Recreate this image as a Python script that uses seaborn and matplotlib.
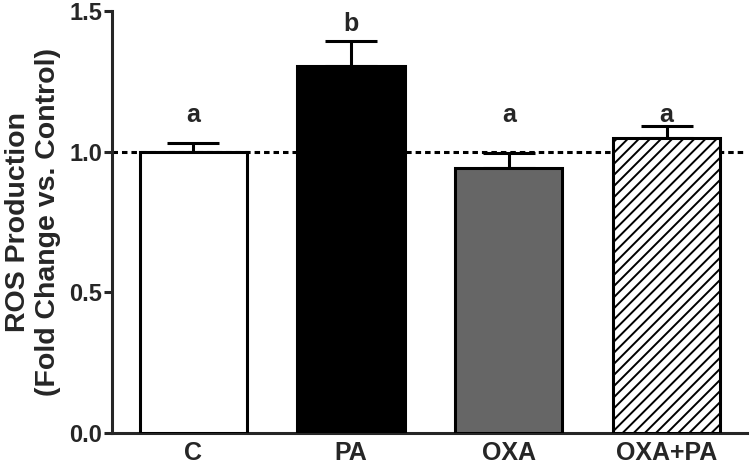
import numpy as np
import pandas as pd
import matplotlib
matplotlib.use('Agg')
import matplotlib.pyplot as plt
import seaborn as sns

groups = ['C', 'PA', 'OXA', 'OXA+PA']
means = [1.00, 1.305, 0.943, 1.050]
sem = [0.030, 0.090, 0.054, 0.043]
letters = ['a', 'b', 'a', 'a']
letter_y = [1.107, 1.43, 1.107, 1.107]
colors = ['white', 'black', '#666666', 'white']
hatches = ['', '', '', '///']

sns.set_style('ticks')
plt.rcParams['font.family'] = ['Liberation Sans', 'DejaVu Sans']
plt.rcParams['font.weight'] = 'bold'
plt.rcParams['hatch.linewidth'] = 1.4

df = pd.DataFrame({'group': groups, 'mean': means})

fig = plt.figure(figsize=(7.5, 4.67), dpi=100)
ax = fig.add_axes([0.149, 0.073, 0.847, 0.903])

# reference line at control level
ax.axhline(1.0, color='black', lw=2.2, dashes=(1.8, 1.3), zorder=1)

sns.barplot(data=df, x='group', y='mean', order=groups, palette=colors, hue='group',
            legend=False, width=0.68, edgecolor='black', linewidth=2.2, errorbar=None,
            saturation=1, ax=ax, zorder=3)

for patch, h in zip(ax.patches, hatches):
    patch.set_hatch(h)

x = np.arange(len(groups))
ax.errorbar(x, means, yerr=[np.zeros(len(sem)), sem], fmt='none', ecolor='black',
            elinewidth=2.2, capsize=19, capthick=2.2, zorder=2)

# significance letters
for xi, ly, lab in zip(x, letter_y, letters):
    ax.text(xi, ly, lab, ha='center', va='baseline', fontsize=18, fontweight='bold')

ax.set_xlim(-0.516, 3.51)
ax.set_ylim(0, 1.5)
ax.set_yticks([0.0, 0.5, 1.0, 1.5])
ax.set_yticklabels(['0.0', '0.5', '1.0', '1.5'])
ax.set_xlabel('')
ax.set_ylabel('ROS Production\n(Fold Change vs. Control)', fontsize=20.5, fontweight='bold', labelpad=6)
ax.tick_params(axis='y', length=6, width=2.2, labelsize=17, pad=1, direction='out')
ax.tick_params(axis='x', length=0, labelsize=18, pad=6)
for lbl in ax.get_xticklabels() + ax.get_yticklabels():
    lbl.set_fontweight('bold')

sns.despine(ax=ax)
for sp in ['left', 'bottom']:
    ax.spines[sp].set_linewidth(2.2)

fig.savefig('out.png', dpi=100)
